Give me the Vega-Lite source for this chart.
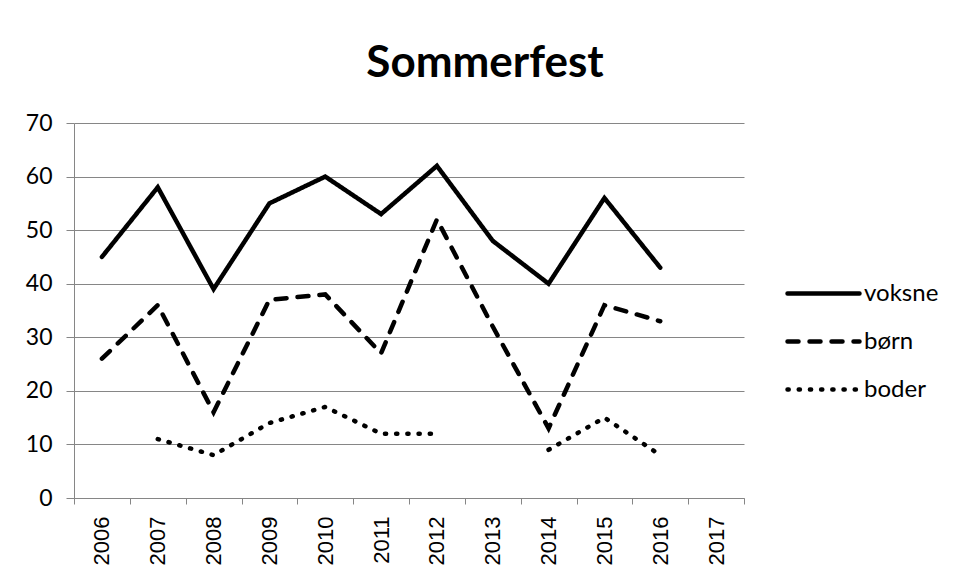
{
  "$schema": "https://vega.github.io/schema/vega-lite/v6.json",
  "width": 670,
  "height": 375,
  "autosize": {"type": "none"},
  "padding": {"left": 74, "top": 123, "right": 210, "bottom": 83},
  "background": "white",
  "title": {
    "text": "Sommerfest",
    "font": "Lato",
    "fontSize": 44,
    "fontWeight": "bold",
    "color": "black",
    "anchor": "middle",
    "dx": 76,
    "dy": 56,
    "baseline": "alphabetic",
    "offset": 47
  },
  "config": {
    "view": {"stroke": null},
    "axis": {
      "domainColor": "#868686",
      "tickColor": "#868686",
      "gridColor": "#868686",
      "labelColor": "black",
      "titleColor": "black"
    }
  },
  "data": {
    "values": [
      {"year": "2006", "series": "voksne", "value": 45},
      {"year": "2007", "series": "voksne", "value": 58},
      {"year": "2008", "series": "voksne", "value": 39},
      {"year": "2009", "series": "voksne", "value": 55},
      {"year": "2010", "series": "voksne", "value": 60},
      {"year": "2011", "series": "voksne", "value": 53},
      {"year": "2012", "series": "voksne", "value": 62},
      {"year": "2013", "series": "voksne", "value": 48},
      {"year": "2014", "series": "voksne", "value": 40},
      {"year": "2015", "series": "voksne", "value": 56},
      {"year": "2016", "series": "voksne", "value": 43},
      {"year": "2017", "series": "voksne", "value": null},
      {"year": "2006", "series": "børn", "value": 26},
      {"year": "2007", "series": "børn", "value": 36},
      {"year": "2008", "series": "børn", "value": 16},
      {"year": "2009", "series": "børn", "value": 37},
      {"year": "2010", "series": "børn", "value": 38},
      {"year": "2011", "series": "børn", "value": 27},
      {"year": "2012", "series": "børn", "value": 52},
      {"year": "2013", "series": "børn", "value": 32},
      {"year": "2014", "series": "børn", "value": 13},
      {"year": "2015", "series": "børn", "value": 36},
      {"year": "2016", "series": "børn", "value": 33},
      {"year": "2017", "series": "børn", "value": null},
      {"year": "2006", "series": "boder", "value": null},
      {"year": "2007", "series": "boder", "value": 11},
      {"year": "2008", "series": "boder", "value": 8},
      {"year": "2009", "series": "boder", "value": 14},
      {"year": "2010", "series": "boder", "value": 17},
      {"year": "2011", "series": "boder", "value": 12},
      {"year": "2012", "series": "boder", "value": 12},
      {"year": "2013", "series": "boder", "value": null},
      {"year": "2014", "series": "boder", "value": 9},
      {"year": "2015", "series": "boder", "value": 15},
      {"year": "2016", "series": "boder", "value": 8},
      {"year": "2017", "series": "boder", "value": null}
    ]
  },
  "mark": {
    "type": "line",
    "color": "black",
    "strokeWidth": 4.5,
    "strokeCap": "round",
    "strokeJoin": "miter",
    "invalid": "break-paths-show-domains"
  },
  "encoding": {
    "x": {
      "field": "year",
      "type": "ordinal",
      "scale": {
        "type": "band",
        "domain": ["2006","2007","2008","2009","2010","2011","2012","2013","2014","2015","2016","2017"],
        "paddingInner": 0,
        "paddingOuter": 0
      },
      "axis": {
        "title": null,
        "labelAngle": -90,
        "labelAlign": "right",
        "labelBaseline": "middle",
        "labelFont": "Liberation Sans",
        "labelFontSize": 22,
        "labelPadding": 12,
        "tickSize": 6,
        "tickBand": "extent",
        "tickWidth": 1,
        "domainWidth": 1,
        "grid": false
      }
    },
    "y": {
      "field": "value",
      "type": "quantitative",
      "scale": {"domain": [0, 70], "nice": false},
      "axis": {
        "title": null,
        "values": [0, 10, 20, 30, 40, 50, 60, 70],
        "labelFont": "Lato",
        "labelFontSize": 23,
        "labelPadding": 14,
        "tickSize": 8,
        "tickWidth": 1,
        "domainWidth": 1,
        "grid": true,
        "gridWidth": 1
      }
    },
    "strokeDash": {
      "field": "series",
      "type": "nominal",
      "scale": {
        "domain": ["voksne", "børn", "boder"],
        "range": [[1, 0], [11, 11], [1.2, 10]]
      },
      "legend": {
        "title": null,
        "orient": "none",
        "legendX": 725,
        "legendY": 146,
        "padding": 0,
        "symbolType": "M-1.636,0H1.636",
        "symbolSize": 1936,
        "symbolStrokeWidth": 4.5,
        "symbolStrokeColor": "black",
        "symbolFillColor": "transparent",
        "labelOffset": 16,
        "labelFont": "Lato",
        "labelFontSize": 24,
        "labelColor": "black",
        "rowPadding": 11,
        "encode": {
          "symbols": {
            "update": {
              "strokeCap": {"value": "round"}
            }
          }
        }
      }
    }
  }
}
